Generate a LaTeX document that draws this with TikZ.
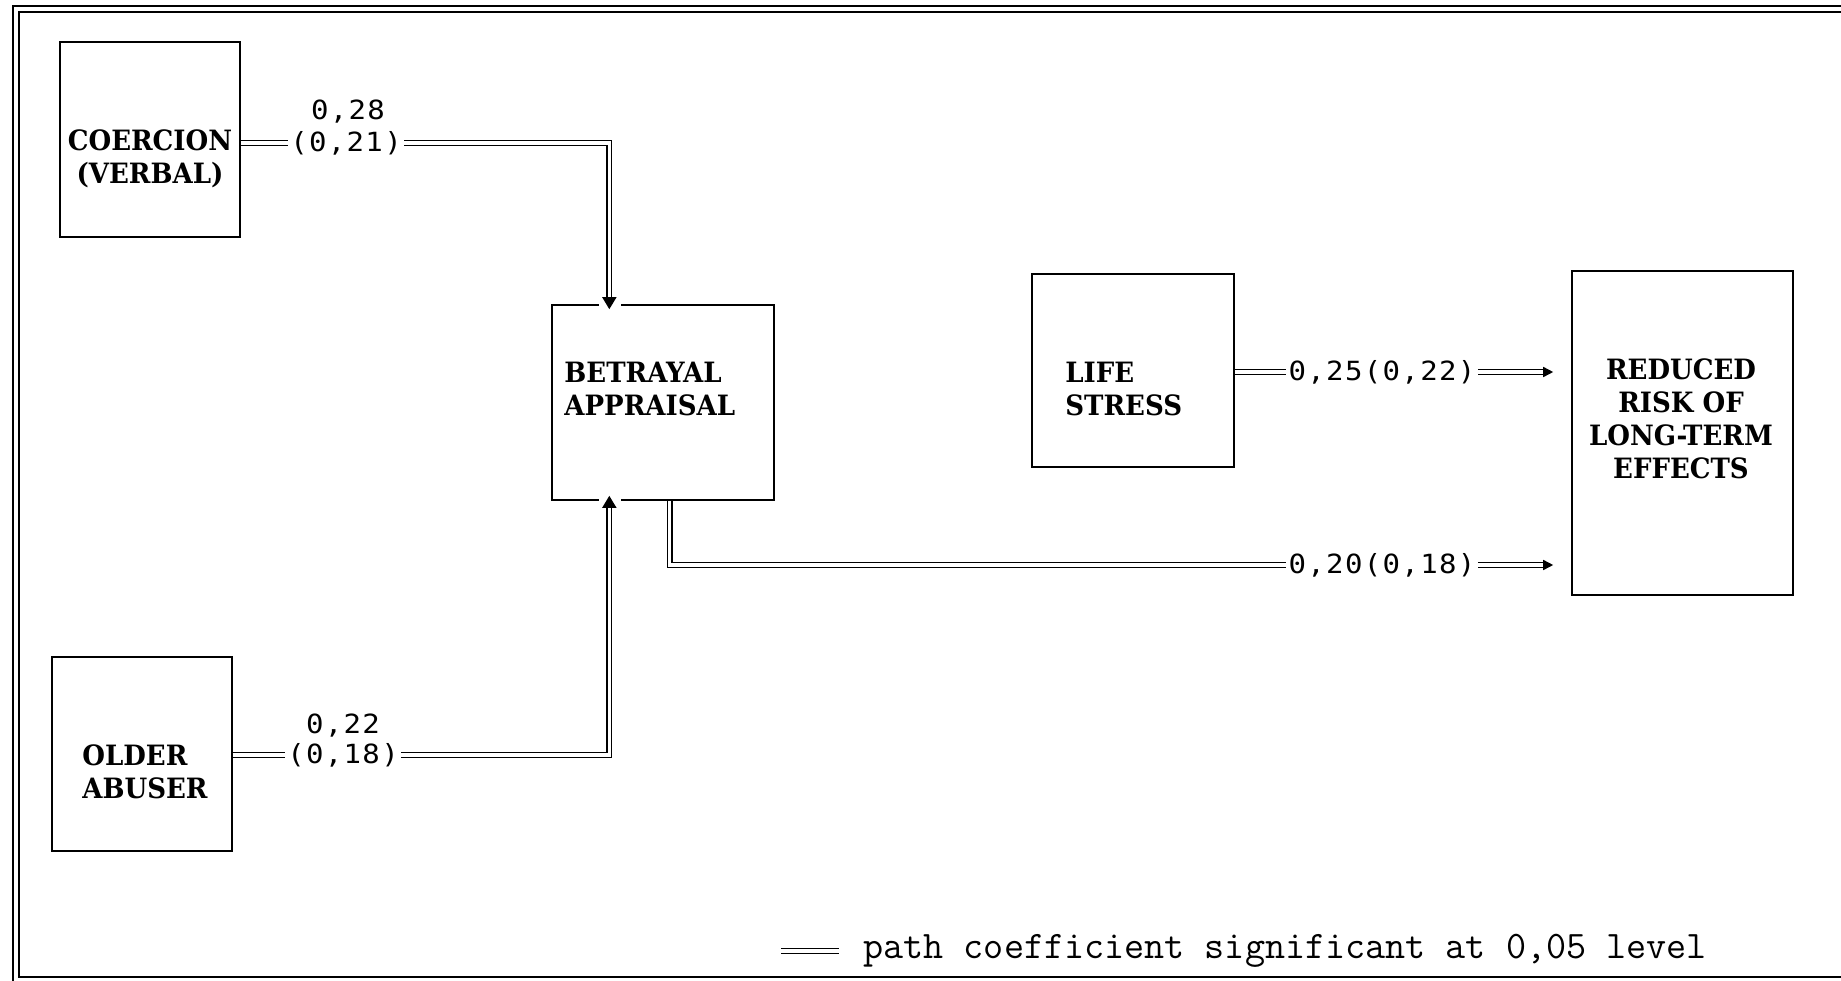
\documentclass[tikz,border=0pt]{standalone}
\usepackage{fontspec}
\usetikzlibrary{arrows.meta,calc}
\newfontfamily\boxfont[FakeStretch=0.93]{DejaVu Serif}
\newfontfamily\numfont[FakeStretch=1.1,LetterSpace=5]{DejaVu Sans Mono}

\tikzset{
  var/.style={draw, line width=0.8pt, inner sep=0pt},
  vartext/.style={font=\boxfont\bfseries\fontsize{14}{16.5}\selectfont, inner sep=0pt},
  coef/.style={font=\numfont\fontsize{13.2}{15.3}\selectfont, inner sep=1pt},
  sig/.style={double, double distance=1.6pt, line width=0.75pt},
  sigarr/.style={sig, -{Triangle[length=5pt,width=5pt,sep=2pt]}},
  bigarr/.style={sig, -{Triangle[length=6pt,width=7pt,sep=1pt]}},
}

\begin{document}
\begin{tikzpicture}[x=0.5pt,y=-0.5pt]
  \useasboundingbox (0,0) rectangle (1841,980);
  % double frame
  \draw[line width=0.8pt] (13,6) rectangle (1860,992);
  \draw[line width=0.8pt] (19,12) rectangle (1852,977);

  % variables
  \node[var, minimum width=90pt, minimum height=97.5pt] (coe) at (150,139.5) {};
  \node[var, minimum width=111pt, minimum height=97.5pt] (bet) at (663,402.5) {};
  \node[var, minimum width=101pt, minimum height=96.5pt] (life) at (1133,370.5) {};
  \node[var, minimum width=110.5pt, minimum height=162pt] (red) at (1682.5,433) {};
  \node[var, minimum width=90pt, minimum height=97pt] (old) at (142,754) {};

  \node[vartext, align=center] (coe-t) at (150,159) {COERCION\\(VERBAL)};
  \node[vartext, align=left, anchor=west] (bet-t) at (564,388.5) {BETRAYAL\\APPRAISAL};
  \node[vartext, align=left, anchor=west] (life-t) at (1065,388.5) {LIFE\\STRESS};
  \node[vartext, align=center] (red-t) at (1681,418.5) {REDUCED\\RISK OF\\LONG-TERM\\EFFECTS};
  \node[vartext, align=left, anchor=west] (old-t) at (82,772) {OLDER\\ABUSER};

  % entry and exit points on betrayal box
  \coordinate (betin) at ($(bet.north west)!0.26!(bet.north east)+(0,7)$);
  \coordinate (betout) at ($(bet.south west)!0.26!(bet.south east)+(0,-7)$);
  \coordinate (betdn) at ($(bet.south west)!0.53!(bet.south east)$);
  \fill[white] ($(betin)+(-10,-10)$) rectangle ($(betin)+(12,-4)$);
  \fill[white] ($(betout)+(-10,4)$) rectangle ($(betout)+(12,10)$);

  % coefficients
  \node[coef] (c1) at (346,143) {(0,21)};
  \node[coef] (c1a) at (348,112) {0,28};
  \node[coef] (c2) at (343,755) {(0,18)};
  \node[coef] (c2a) at (343,726) {0,22};
  \node[coef] (c3) at (1382,372) {0,25(0,22)};
  \node[coef] (c4) at (1382,565) {0,20(0,18)};

  % paths
  \draw[sig] (coe.east |- c1) -- (c1);
  \draw[bigarr] (c1) -| (betin);
  \draw[sig] (old.east |- c2) -- (c2);
  \draw[bigarr] (c2) -| (betout);
  \draw[sig] (life.east |- c3) -- (c3);
  \draw[sigarr, shorten >=7pt] (c3) -- (red.west |- c3);
  \draw[sig] (betdn) |- (c4);
  \draw[sigarr, shorten >=7pt] (c4) -- (red.west |- c4);

  % legend
  \node[font=\ttfamily\fontsize{19.5}{19.5}\selectfont, anchor=west, inner sep=0pt] (key) at (863,951)
    {path coefficient significant at 0,05 level};
  \coordinate (keyline) at (781,951);
  \draw[sig] (keyline) -- ++(58,0);
\end{tikzpicture}
\end{document}
